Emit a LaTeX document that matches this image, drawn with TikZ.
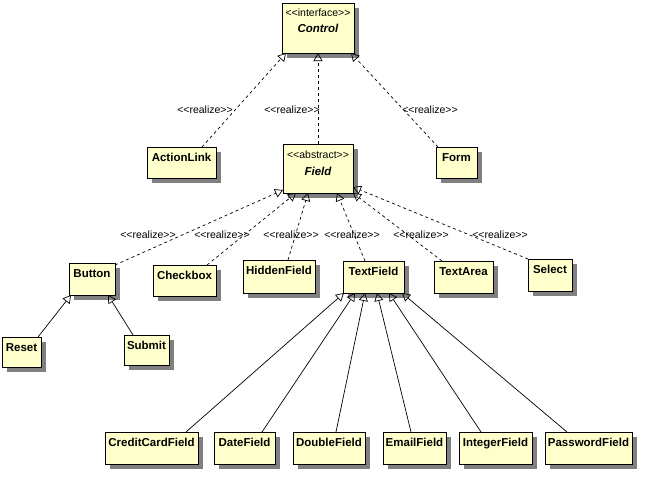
\documentclass[tikz,border=0pt]{standalone}
\usepackage{fontspec}
\setmainfont{Liberation Sans}
\usetikzlibrary{arrows.meta,shadows}
\definecolor{clsfill}{RGB}{255,255,204}
\definecolor{shgray}{RGB}{128,128,128}
\tikzset{
  clsbox/.style={draw=black, line width=1pt, fill=clsfill, inner sep=0pt, outer sep=0pt,
    drop shadow={shadow xshift=5pt, shadow yshift=-5pt, fill=shgray, opacity=1}},
  clstext/.style={inner sep=0pt, font=\fontsize{11.5}{13}\selectfont\bfseries},
  stereo/.style={inner sep=0pt, font=\fontsize{10.5}{12}\selectfont},
  abstxt/.style={inner sep=0pt, font=\fontsize{11.5}{13}\selectfont\bfseries\itshape},
  rlabel/.style={inner sep=0pt, anchor=base, font=\fontsize{10.5}{12}\selectfont},
  realize/.style={draw=black, line width=0.7pt, dash pattern=on 3pt off 3pt,
    -{Triangle[open, length=8pt, width=9pt, line width=0.7pt]}},
  inherit/.style={draw=black, line width=0.7pt,
    -{Triangle[open, length=8pt, width=9pt, line width=0.7pt]}}
}
\newcommand\umlclass[6]{%
  \node[clsbox, minimum width=#4pt, minimum height=#5pt, anchor=north west] (#1) at (#2,#3) {};
  \node[clstext, anchor=base] (#1-t) at ([yshift=-14pt]#1.north) {#6};}
\newcommand\stt[1]{<{}<#1>{}>}
\begin{document}
\begin{tikzpicture}[x=1pt, y=-1pt]
\useasboundingbox (0,0) rectangle (649,479);
% top
\node[clsbox, minimum width=72pt, minimum height=50pt, anchor=north west] (control) at (282,3) {};
\node[stereo, anchor=base] (control-s) at ([yshift=-13.5pt]control.north) {\stt{interface}};
\node[abstxt, anchor=base] (control-t) at ([yshift=-29.5pt]control.north) {Control};
% second row
\umlclass{actionlink}{147}{147}{69}{31}{ActionLink}
\node[clsbox, minimum width=70pt, minimum height=49pt, anchor=north west] (field) at (283,144) {};
\node[stereo, anchor=base] (field-s) at ([yshift=-14pt]field.north) {\stt{abstract}};
\node[abstxt, anchor=base] (field-t) at ([yshift=-31pt]field.north) {Field};
\umlclass{form}{436}{147}{41}{31}{Form}
% third row
\umlclass{button}{69}{263}{46}{32}{Button}
\umlclass{checkbox}{153}{265}{63}{31}{Checkbox}
\umlclass{hidden}{243}{260}{72}{33}{HiddenField}
\umlclass{textfield}{343}{261}{61}{32}{TextField}
\umlclass{textarea}{434}{261}{59}{32}{TextArea}
\umlclass{select}{528}{259}{44}{32}{Select}
% fourth row
\umlclass{reset}{2}{337}{39}{30}{Reset}
\umlclass{submit}{124}{335}{45}{30}{Submit}
% bottom row
\umlclass{credit}{105}{432}{93}{32}{CreditCardField}
\umlclass{date}{214}{432}{61}{32}{DateField}
\umlclass{double}{293}{432}{72}{32}{DoubleField}
\umlclass{email}{383}{432}{63}{32}{EmailField}
\umlclass{integer}{459}{432}{73}{32}{IntegerField}
\umlclass{password}{545}{432}{87}{32}{PasswordField}
% realizations to Control
\draw[realize] ([xshift=55pt]actionlink.north west) -- ([xshift=4pt]control.south west);
\draw[realize] (field.north) -- (control.south);
\draw[realize] ([xshift=2pt]form.north west) -- ([xshift=-3pt]control.south east);
\node[rlabel] (l1) at (205,113) {\stt{realize}};
\node[rlabel] (l2) at (292,113) {\stt{realize}};
\node[rlabel] (l3) at (430,113) {\stt{realize}};
% realizations to Field
\draw[realize] ([yshift=-2pt]button.north east) -- ([yshift=3pt]field.south west);
\draw[realize] ([xshift=54pt]checkbox.north west) -- ([xshift=13pt]field.south west);
\draw[realize] ([xshift=45pt]hidden.north west) -- ([xshift=25pt]field.south west);
\draw[realize] ([xshift=22pt]textfield.north west) -- ([xshift=54pt]field.south west);
\draw[realize] ([xshift=8pt]textarea.north west) -- (field.south east);
\draw[realize] (select.north west) -- ([yshift=6pt]field.south east);
\node[rlabel] (l4) at (148,238) {\stt{realize}};
\node[rlabel] (l5) at (222,238) {\stt{realize}};
\node[rlabel] (l6) at (291,238) {\stt{realize}};
\node[rlabel] (l7) at (352,238) {\stt{realize}};
\node[rlabel] (l8) at (421,238) {\stt{realize}};
\node[rlabel] (l9) at (500,238) {\stt{realize}};
% generalizations to Button
\draw[inherit] ([xshift=-3pt]reset.north east) -- ([xshift=2pt]button.south west);
\draw[inherit] ([xshift=9pt]submit.north west) -- ([xshift=39pt]button.south west);
% generalizations to TextField
\draw[inherit] ([xshift=81pt]credit.north west) -- ([xshift=1pt]textfield.south west);
\draw[inherit] ([xshift=48pt]date.north west) -- ([xshift=12pt]textfield.south west);
\draw[inherit] ([xshift=43pt]double.north west) -- ([xshift=22pt]textfield.south west);
\draw[inherit] ([xshift=28pt]email.north west) -- ([xshift=34pt]textfield.south west);
\draw[inherit] ([xshift=22pt]integer.north west) -- ([xshift=46pt]textfield.south west);
\draw[inherit] ([xshift=22pt]password.north west) -- ([xshift=59pt]textfield.south west);
\end{tikzpicture}
\end{document}
